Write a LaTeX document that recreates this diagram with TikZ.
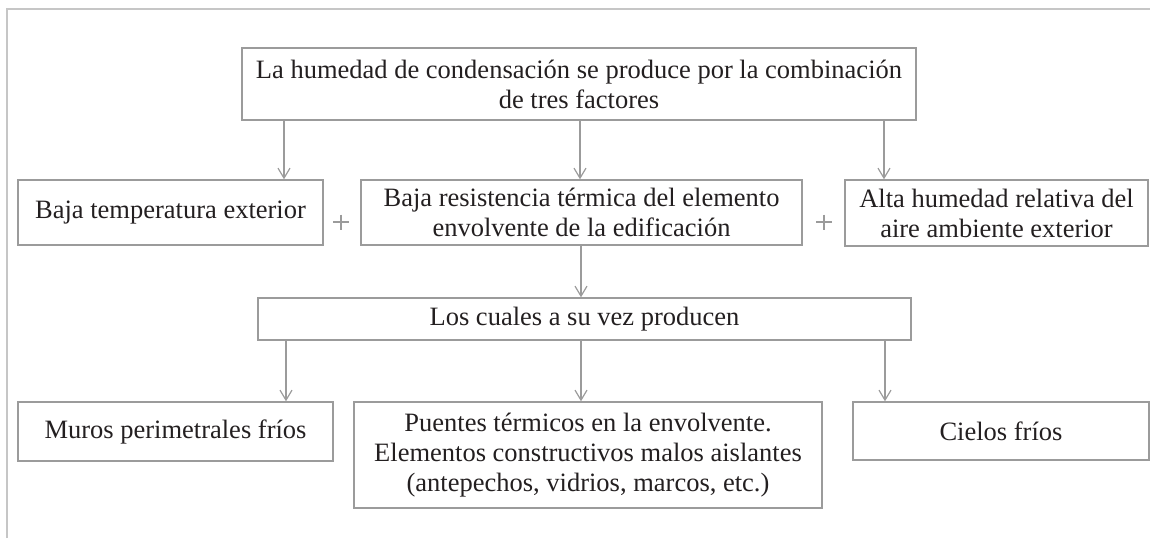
\documentclass[tikz,border=0pt]{standalone}
\usepackage{fontspec}
\setmainfont{Liberation Serif}
\usetikzlibrary{arrows.meta,positioning}
\definecolor{borde}{HTML}{9B9B9B}
\definecolor{marco}{HTML}{C6C6C6}
\definecolor{texto}{HTML}{231F20}
\tikzset{
  caja/.style={draw=borde, line width=1.4pt, align=center, inner sep=0pt, text=texto, font=\fontsize{26.5}{30}\selectfont},
  flecha/.style={draw=borde, line width=1.4pt, -{Straight Barb[length=10pt,width=12pt,line width=1.2pt]}},
  mas/.style={draw=borde, line width=1.3pt}
}
\begin{document}
\begin{tikzpicture}[x=1pt,y=-1pt]
\useasboundingbox (0,0) rectangle (1150,538);
\draw[marco, line width=2.5pt] (7,538) -- (7,9) -- (1150,9);
% caja superior
\node[caja, minimum width=674pt, minimum height=72pt] (causa) at (579,84) {La humedad de condensación se produce por la combinación\\de tres factores};
% factores
\node[caja, minimum width=305pt, minimum height=65pt] (temp) at (170.5,212.5) {Baja temperatura exterior};
\node[caja, minimum width=441pt, minimum height=65pt] (resis) at (581.5,212.5) {Baja resistencia térmica del elemento\\envolvente de la edificación};
\node[caja, minimum width=303pt, minimum height=66pt] (humed) at (996.5,213) {Alta humedad relativa del\\aire ambiente exterior};
\coordinate (mas1) at (341,222);
\coordinate (mas2) at (824,222);
\foreach \m in {mas1, mas2}
  \draw[mas] (\m) +(-8,0) -- +(8,0) (\m) +(0,-7.5) -- +(0,7.5);
% consecuencias
\node[caja, minimum width=653pt, minimum height=42pt] (cuales) at (584.5,319) {Los cuales a su vez producen};
\node[caja, minimum width=315pt, minimum height=59pt] (muros) at (175.5,431.5) {Muros perimetrales fríos};
\node[caja, minimum width=468pt, minimum height=106pt] (puentes) at (588,455) {Puentes térmicos en la envolvente.\\Elementos constructivos malos aislantes\\(antepechos, vidrios, marcos, etc.)};
\node[caja, minimum width=296pt, minimum height=58pt] (cielos) at (1001,431) {Cielos fríos};
% flechas
\coordinate (f1) at (284,0);
\coordinate (f2) at (580,0);
\coordinate (f3) at (884,0);
\coordinate (g1) at (286,0);
\coordinate (g2) at (581,0);
\coordinate (g3) at (885,0);
\foreach \f/\dest in {f1/temp, f2/resis, f3/humed}
  \draw[flecha] (causa.south -| \f) -- (\dest.north -| \f);
\draw[flecha] (resis.south -| g2) -- (cuales.north -| g2);
\foreach \g/\dest in {g1/muros, g2/puentes, g3/cielos}
  \draw[flecha] (cuales.south -| \g) -- (\dest.north -| \g);
\end{tikzpicture}
\end{document}
